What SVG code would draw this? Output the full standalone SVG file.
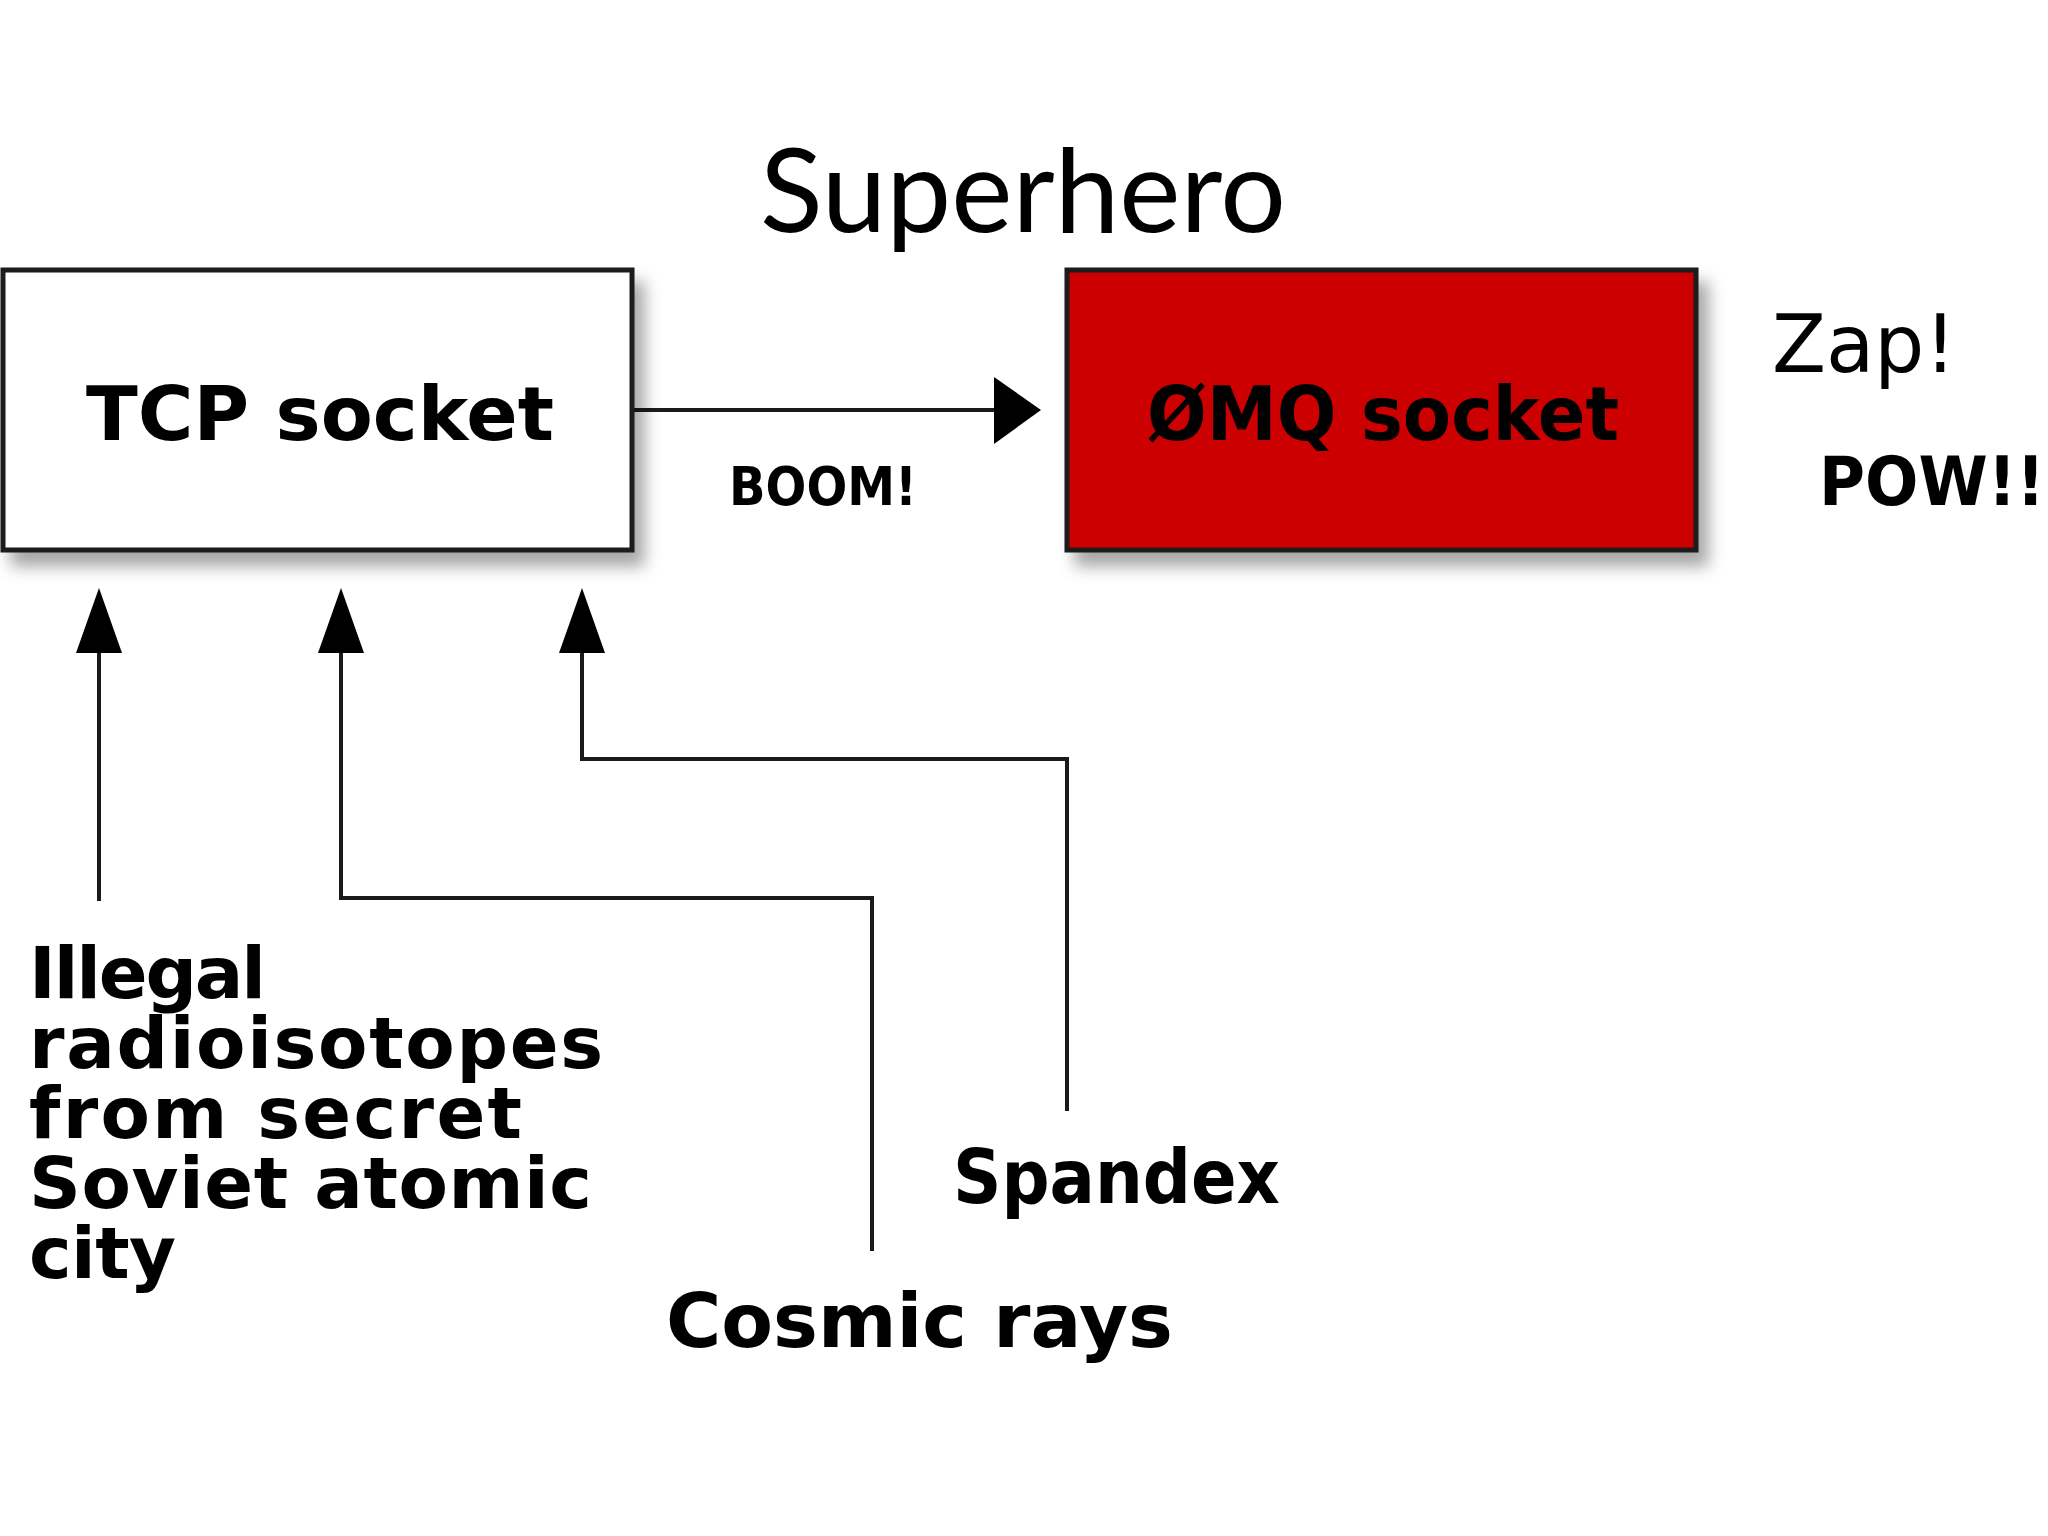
<svg xmlns="http://www.w3.org/2000/svg" width="2048" height="1536" viewBox="0 0 2048 1536">
<style>
.t{font-family:"DejaVu Sans",sans-serif;font-weight:bold;fill:#000}
.r{font-family:"DejaVu Sans",sans-serif;fill:#000}
.ln{fill:none;stroke:#1a1a1a;stroke-width:4}
.box{stroke:#1a1a1a;stroke-width:5}
</style>
<defs>
<filter id="sh" x="-10%" y="-10%" width="130%" height="140%">
<feDropShadow dx="10" dy="14" stdDeviation="8" flood-color="#000" flood-opacity="0.35"/>
</filter>
</defs>
<rect width="2048" height="1536" fill="#ffffff"/>
<text x="1023" y="232" text-anchor="middle" font-family="Lato, 'Open Sans', sans-serif" font-size="116" textLength="526" lengthAdjust="spacingAndGlyphs" fill="#000">Superhero</text>
<g id="connectors">
<line class="ln" x1="632" y1="410" x2="996" y2="410"/>
<path d="M994,377 L1041,410 L994,444 Z" fill="#000"/>
<path class="ln" d="M99,901 V652"/>
<path d="M76,653 L99,588 L122,653 Z" fill="#000"/>
<path class="ln" d="M872,1251 V898 H341 V652"/>
<path d="M318,653 L341,588 L364,653 Z" fill="#000"/>
<path class="ln" d="M1067,1111 V759 H582 V652"/>
<path d="M559,653 L582,588 L605,653 Z" fill="#000"/>
<text class="t" x="729" y="505" font-size="53" textLength="188" lengthAdjust="spacingAndGlyphs">BOOM!</text>
</g>
<g id="tcp">
<rect class="box" x="3" y="270" width="629" height="280" fill="#ffffff" filter="url(#sh)"/>
<text class="t" x="86" y="440" font-size="75" textLength="468" lengthAdjust="spacingAndGlyphs">TCP socket</text>
</g>
<g id="zmq">
<rect class="box" x="1067" y="270" width="629" height="280" fill="#cc0000" filter="url(#sh)"/>
<text class="t" x="1147" y="440" font-size="75" textLength="472" lengthAdjust="spacingAndGlyphs">ØMQ socket</text>
</g>
<g id="zap">
<text class="r" x="1772" y="372" font-size="80" textLength="184" lengthAdjust="spacingAndGlyphs">Zap!</text>
</g>
<g id="pow">
<text class="t" x="1819" y="505" font-size="68" textLength="226" lengthAdjust="spacingAndGlyphs">POW!!</text>
</g>
<g id="illegal">
<text class="t" font-size="72" lengthAdjust="spacingAndGlyphs">
<tspan x="29" y="998" textLength="237">Illegal</tspan>
<tspan x="29" y="1068" textLength="574">radioisotopes</tspan>
<tspan x="29" y="1138" textLength="493">from secret</tspan>
<tspan x="29" y="1208" textLength="563">Soviet atomic</tspan>
<tspan x="29" y="1278" textLength="147">city</tspan>
</text>
</g>
<g id="cosmic">
<text class="t" x="666" y="1347" font-size="75" textLength="507" lengthAdjust="spacingAndGlyphs">Cosmic rays</text>
</g>
<g id="spandex">
<text class="t" x="953" y="1203" font-size="75" textLength="327" lengthAdjust="spacingAndGlyphs">Spandex</text>
</g>
</svg>
